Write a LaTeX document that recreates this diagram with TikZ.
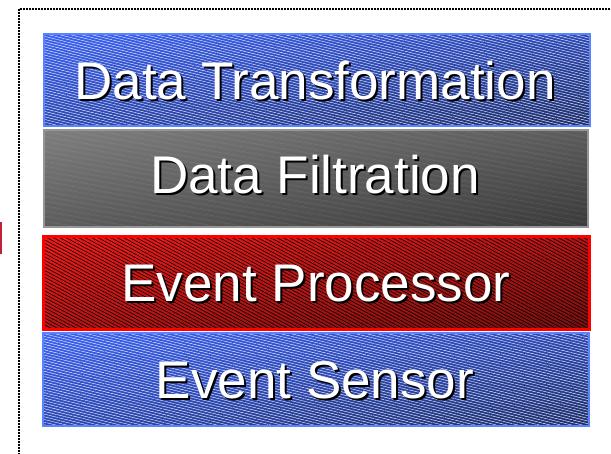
\documentclass[tikz,border=0pt]{standalone}
\usepackage{fontspec}
\setmainfont{Liberation Sans}
\usetikzlibrary{patterns.meta,shadings}
\definecolor{bluebd}{HTML}{5A84FF}
\definecolor{blueA}{HTML}{3C62F2}
\definecolor{blueB}{HTML}{1E2F6E}
\definecolor{blueM}{HTML}{2D49B4}
\definecolor{grayA}{HTML}{7E7E7E}
\definecolor{grayB}{HTML}{3A3A3A}
\definecolor{grayM}{HTML}{5C5C5C}
\definecolor{graybd}{HTML}{959595}
\definecolor{redA}{HTML}{F21A1A}
\definecolor{redB}{HTML}{741010}
\definecolor{redM}{HTML}{B81515}
\definecolor{redbd}{HTML}{FF0000}
\definecolor{markred}{HTML}{C0203A}
\tikzset{
  layer/.style={rectangle, inner sep=0pt, anchor=north west},
  bluelayer/.style={layer, upper left=blueA, lower right=blueB, upper right=blueM, lower left=blueM,
    postaction={pattern={Lines[angle=-14,distance=2.6pt,line width=0.4pt]}, pattern color=white, fill opacity=0.09},
    postaction={draw=bluebd, line width=2pt}},
  graylayer/.style={layer, upper left=grayA, lower right=grayB, upper right=grayM, lower left=grayM,
    postaction={pattern={Lines[angle=-10,distance=4pt,line width=0.5pt]}, pattern color=white, fill opacity=0.16},
    postaction={draw=graybd, line width=2pt}},
  redlayer/.style={layer, upper left=redA, lower right=redB, upper right=redM, lower left=redM,
    postaction={pattern={Lines[angle=-28,distance=3pt,line width=0.6pt]}, pattern color=black, fill opacity=0.18},
    postaction={draw=redbd, line width=3pt}},
  lbl/.style={anchor=base, inner sep=0pt, text=white, font=\fontsize{53}{60}\selectfont},
  lblshadow/.style={lbl, text=black},
}
\begin{document}
\begin{tikzpicture}[x=1pt,y=-1pt]
\useasboundingbox (0,0) rectangle (611,454);
\clip (0,0) rectangle (611,454);
\draw[line width=1.6pt, dash pattern=on 1.6pt off 1.4pt] (19,9) rectangle (640,480);
\fill[markred] (0,222) rectangle (2,254);
\node[bluelayer, minimum width=546pt, minimum height=92pt] (dt) at (44,34) {};
\node[graylayer, minimum width=544pt, minimum height=97pt] (df) at (44,130) {};
\node[redlayer, minimum width=546pt, minimum height=93pt] (ep) at (43,236) {};
\node[bluelayer, minimum width=546pt, minimum height=93pt] (es) at (43,333) {};
\node[lblshadow] (dts) at (317,102) {Data Transformation};
\node[lbl] (dtl) at (315,100) {Data Transformation};
\node[lblshadow] (dfs) at (317,196) {Data Filtration};
\node[lbl] (dfl) at (315,194) {Data Filtration};
\node[lblshadow] (eps) at (318,304) {Event Processor};
\node[lbl] (epl) at (316,302) {Event Processor};
\node[lblshadow] (ess) at (317,401) {Event Sensor};
\node[lbl] (esl) at (315,399) {Event Sensor};
\end{tikzpicture}
\end{document}
